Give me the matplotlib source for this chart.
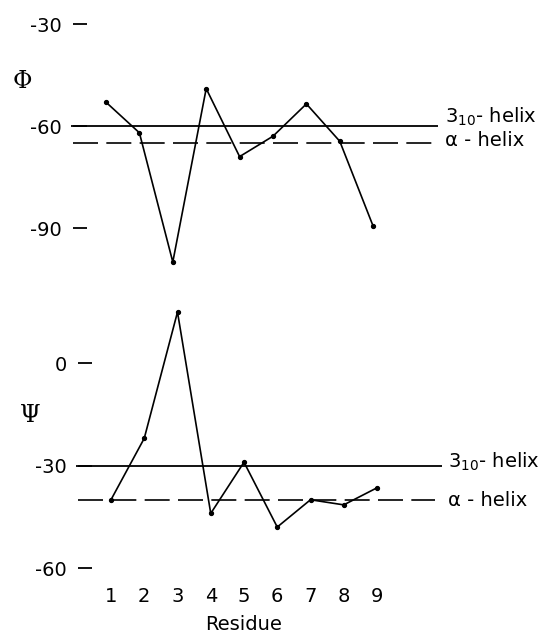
import numpy as np
import matplotlib.pyplot as plt

plt.rcParams['font.family'] = ['DejaVu Sans']
plt.rcParams['axes.unicode_minus'] = False
plt.rcParams['lines.scale_dashes'] = False

# data
residues = [1, 2, 3, 4, 5, 6, 7, 8, 9]
phi = [-53, -62, -100, -49, -69, -63, -53.5, -64.5, -89.5]
psi = [-40, -22, 15, -44, -29, -48, -40, -41.5, -36.5]

phi_ref = [-60, -65]    # 3_10-helix, alpha-helix
psi_ref = [-30, -40]
ref_labels = [r'$\mathregular{3_{10}}$- helix', 'α - helix']

phi_ticks = [-30, -60, -90]
psi_ticks = [0, -30, -60]

W, H = 551, 633
fig = plt.figure(figsize=(W / 100, H / 100), dpi=100)

def px_axes(left, top, right, bottom):
    return fig.add_axes([left / W, 1 - bottom / H, (right - left) / W, (bottom - top) / H])

ax1 = px_axes(72.6, 24, 72.6 + 11 * 33.4, 279)
ax2 = px_axes(77.75, 295, 77.75 + 11 * 33.25, 568)

fs = 14
# label offsets (points) above each reference line: [3_10, alpha]
offsets = {ax1: [6.5, 1.5], ax2: [2.5, -0.5]}
for ax, vals, refs, ticks, ylim in [
        (ax1, phi, phi_ref, phi_ticks, (-105, -30)),
        (ax2, psi, psi_ref, psi_ticks, (-60, 20))]:
    ax.set_xlim(0, 11)
    ax.set_ylim(*ylim)
    for s in ax.spines.values():
        s.set_visible(False)
    ax.plot(residues, vals, color='black', lw=1.2, marker='o', ms=2.8, clip_on=False)
    ax.hlines(refs[0], -0.05, 10.95, color='black', lw=1.3, clip_on=False)
    ax.hlines(refs[1], 0.0, 10.75, color='black', lw=1.2, linestyles=[(0, (18, 6))], clip_on=False)
    for r, lab, off in zip(refs, ref_labels, offsets[ax]):
        ax.annotate(lab, (11.15, r), xytext=(0, off), textcoords='offset points',
                    fontsize=fs, va='center', ha='left', annotation_clip=False)
    ax.set_yticks(ticks)
    ax.set_yticklabels([str(t) for t in ticks])
    ax.tick_params(axis='y', direction='in', length=10, width=1.3, pad=8, labelsize=fs)

ax1.set_xticks([])
ax2.set_xticks(residues)
ax2.set_xticklabels([str(r) for r in residues])
ax2.tick_params(axis='x', length=0, pad=14, labelsize=fs)

fig.text(22 / W, 1 - 82 / H, 'Φ', family='DejaVu Serif', fontsize=17, ha='center', va='center')
fig.text(30 / W, 1 - 416 / H, 'Ψ', family='DejaVu Serif', fontsize=17, ha='center', va='center')
fig.text(244 / W, 1 - 625 / H, 'Residue', fontsize=fs, ha='center', va='center')

fig.savefig('out.png', dpi=100)
